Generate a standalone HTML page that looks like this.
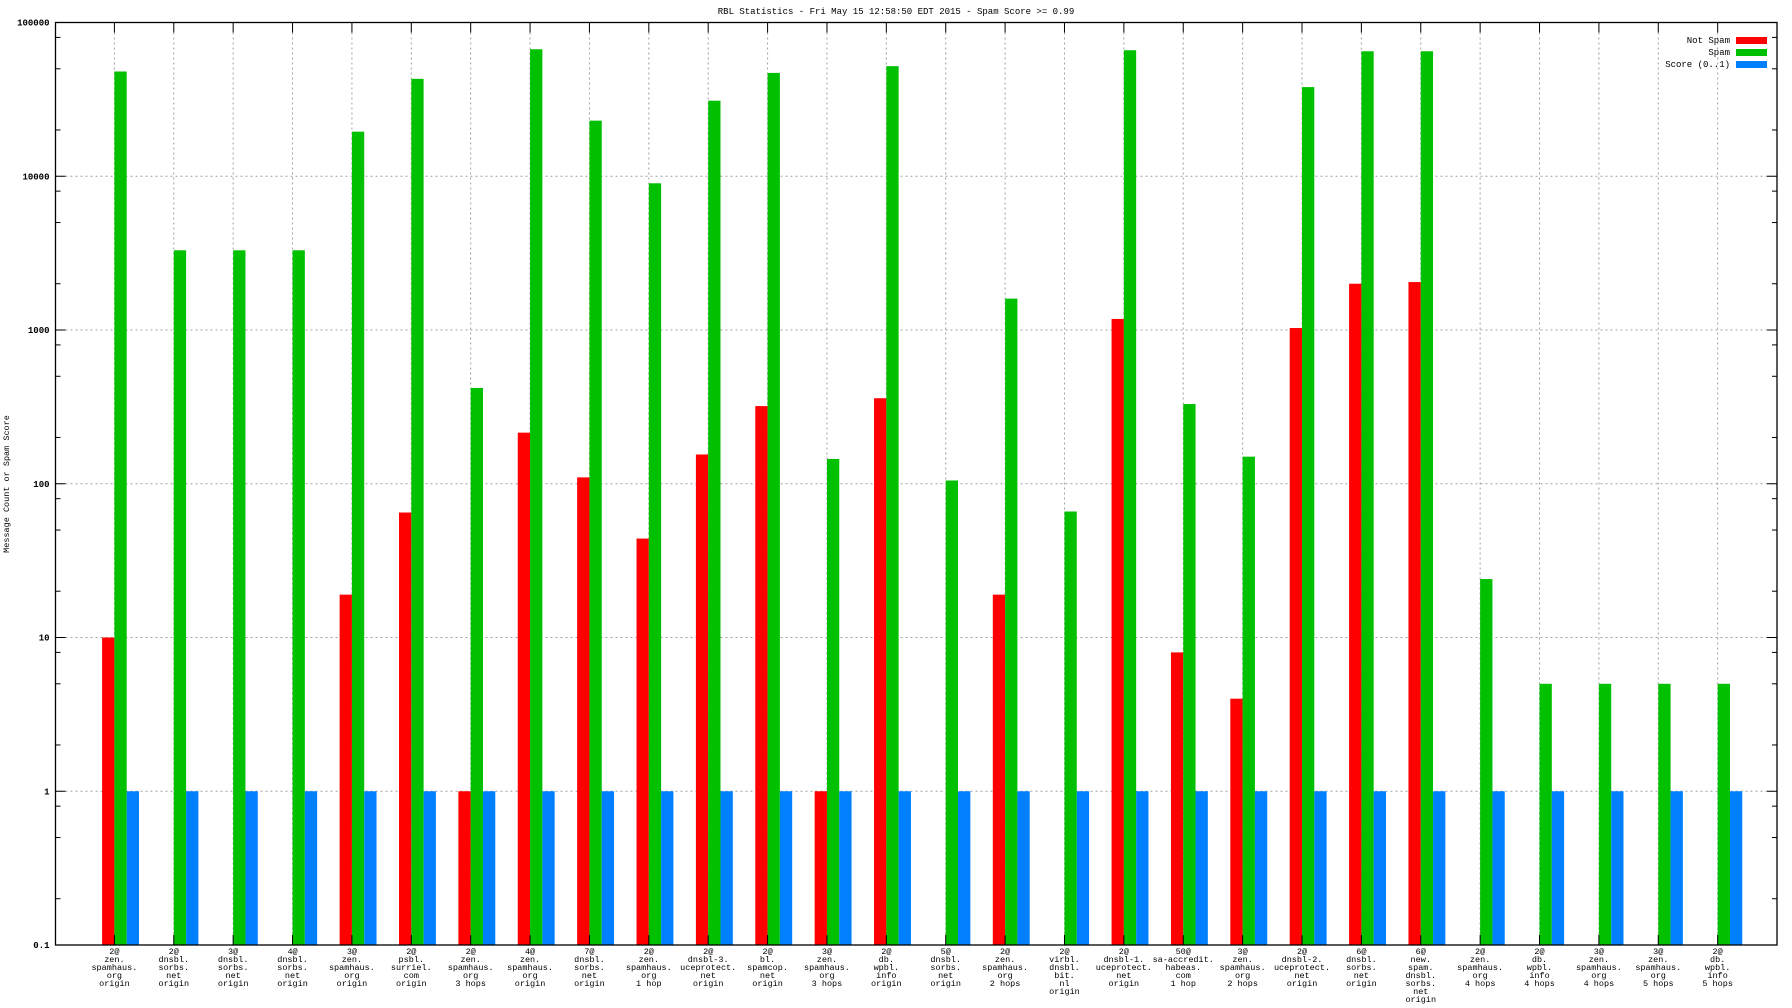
<!DOCTYPE html>
<html><head><meta charset="utf-8"><style>
html,body{margin:0;padding:0;background:#fff;}
svg{display:block;font-family:"Liberation Mono","DejaVu Sans Mono",monospace;}
</style></head><body>
<svg id="chart" width="1792" height="1008" viewBox="0 0 1792 1008" xmlns="http://www.w3.org/2000/svg">
<text x="896" y="14" font-size="9" text-anchor="middle">RBL Statistics - Fri May 15 12:58:50 EDT 2015 - Spam Score &gt;= 0.99</text>
<text transform="translate(9,484) rotate(-90)" font-size="8.5" text-anchor="middle">Message Count or Spam Score</text>
<g id="grid"></g><g id="bars"></g><g id="axes"></g><g id="labels"></g>
<g>
<text x="1730" y="43" font-size="9" text-anchor="end">Not Spam</text>
<rect x="1736" y="37" width="31" height="7" fill="#ff0000"/>
<text x="1730" y="55" font-size="9" text-anchor="end">Spam</text>
<rect x="1736" y="49" width="31" height="7" fill="#00c000"/>
<text x="1730" y="67" font-size="9" text-anchor="end">Score (0..1)</text>
<rect x="1736" y="61" width="31" height="7" fill="#0080ff"/>
</g>
</svg>
<script>
const categories = [
"2@|zen.|spamhaus.|org|origin","2@|dnsbl.|sorbs.|net|origin","3@|dnsbl.|sorbs.|net|origin","4@|dnsbl.|sorbs.|net|origin",
"3@|zen.|spamhaus.|org|origin","2@|psbl.|surriel.|com|origin","2@|zen.|spamhaus.|org|3 hops","4@|zen.|spamhaus.|org|origin",
"7@|dnsbl.|sorbs.|net|origin","2@|zen.|spamhaus.|org|1 hop","2@|dnsbl-3.|uceprotect.|net|origin","2@|bl.|spamcop.|net|origin",
"3@|zen.|spamhaus.|org|3 hops","2@|db.|wpbl.|info|origin","5@|dnsbl.|sorbs.|net|origin","2@|zen.|spamhaus.|org|2 hops",
"2@|virbl.|dnsbl.|bit.|nl|origin","2@|dnsbl-1.|uceprotect.|net|origin","50@|sa-accredit.|habeas.|com|1 hop","3@|zen.|spamhaus.|org|2 hops",
"2@|dnsbl-2.|uceprotect.|net|origin","6@|dnsbl.|sorbs.|net|origin","6@|new.|spam.|dnsbl.|sorbs.|net|origin","2@|zen.|spamhaus.|org|4 hops",
"2@|db.|wpbl.|info|4 hops","3@|zen.|spamhaus.|org|4 hops","3@|zen.|spamhaus.|org|5 hops","2@|db.|wpbl.|info|5 hops"];
const notSpam = [10,0,0,0,19,65,1,215,110,44,155,320,1,360,0,19,0,1180,8,4,1030,2000,2050,0,0,0,0,0];
const spam = [48000,3300,3300,3300,19500,43000,420,67000,23000,9000,31000,47000,145,52000,105,1600,66,66000,330,150,38000,65000,65000,24,5,5,5,5];
const score = [1,1,1,1,1,1,1,1,1,1,1,1,1,1,1,1,1,1,1,1,1,1,1,1,1,1,1,1];
const yTicks = ["0.1","1","10","100","1000","10000","100000"];

const L=55.5,R=1777,T=22.5,B=945,DEC=(B-T)/6;
const x0=114.4,step=59.38,bw=12.3;
function yScale(v){return B-(Math.log10(v)+1)*DEC;}
function xTick(i){return x0+i*step;}
const NS="http://www.w3.org/2000/svg";
function mk(tag,attrs,parent){const e=document.createElementNS(NS,tag);for(const k in attrs)e.setAttribute(k,attrs[k]);parent.appendChild(e);return e;}
const grid=document.getElementById('grid'),bars=document.getElementById('bars'),axes=document.getElementById('axes'),labels=document.getElementById('labels');

yTicks.forEach((t,i)=>{
  const y=yScale(parseFloat(t));
  if(i>0&&i<yTicks.length-1){const g=mk('line',{x1:L,x2:R,y1:y,y2:y,stroke:'#a0a0a0','stroke-width':1,'stroke-dasharray':'2,3'},grid);
  
  }
  const tx=mk('text',{x:L-6,y:y+3,'font-size':9,'text-anchor':'end','font-weight':'bold'},axes);tx.textContent=t;
  
  
  mk('line',{x1:L,x2:L+10,y1:y,y2:y,stroke:'#000'},axes);
  mk('line',{x1:R,x2:R-10,y1:y,y2:y,stroke:'#000'},axes);
  if(i<yTicks.length-1){[2,5,8].forEach(m=>{const ym=yScale(parseFloat(t)*m);
    mk('line',{x1:L,x2:L+5,y1:ym,y2:ym,stroke:'#000'},axes);mk('line',{x1:R,x2:R-5,y1:ym,y2:ym,stroke:'#000'},axes);});}
});

categories.forEach((c,i)=>{
  const x=xTick(i);
  const g=mk('line',{x1:x,x2:x,y1:T,y2:B,stroke:'#a0a0a0','stroke-width':1,'stroke-dasharray':'2,3'},grid);
  
  
  mk('line',{x1:x,x2:x,y1:T,y2:T+10,stroke:'#000'},axes);
  mk('line',{x1:x,x2:x,y1:B,y2:B-10,stroke:'#000'},axes);
  const series=[[notSpam[i],'#ff0000',-bw,'bar-not-spam'],[spam[i],'#00c000',0,'bar-spam'],[score[i],'#0080ff',bw,'bar-score']];
  series.forEach(s=>{
    if(s[0]>0){const y=yScale(s[0]);
      const r=mk('rect',{x:x+s[2],y:y,width:bw,height:B-y,fill:s[1]},bars);
      
      }
  });
  const lines=c.split('|');
  const t=mk('text',{'font-size':8.5,'text-anchor':'middle'},labels);
  
  
  lines.forEach((ln,j)=>{const ts=mk('tspan',{x:x,y:954+j*8},t);ts.textContent=ln;});
});
const frame=mk('rect',{x:L,y:T,width:R-L,height:B-T,fill:'none',stroke:'#000','stroke-width':1.3},axes);


</script>
</body></html>
